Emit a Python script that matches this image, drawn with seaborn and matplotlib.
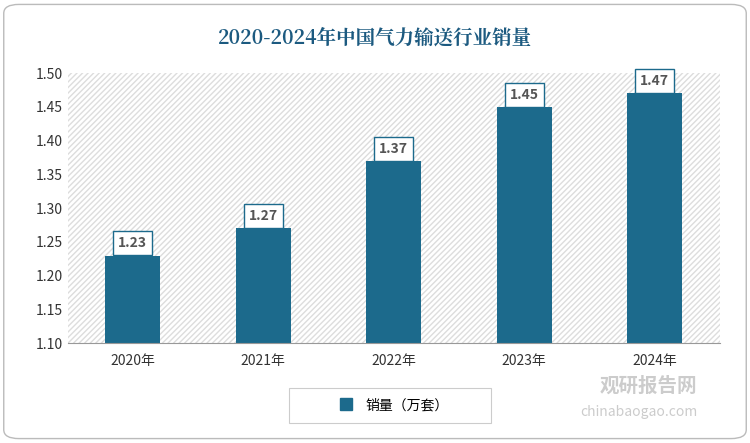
import matplotlib
matplotlib.use("Agg")
import matplotlib.pyplot as plt
import seaborn as sns
import pandas as pd
from matplotlib import font_manager as fm
from matplotlib.patches import FancyBboxPatch, Rectangle
from matplotlib.lines import Line2D

names = sorted({f.name for f in fm.fontManager.ttflist if "CJK" in f.name})
sans = [n for n in names if "Sans" in n and n.endswith("SC")] or [n for n in names if "Sans" in n] or names
serif = [n for n in names if "Serif" in n and n.endswith("SC")] or [n for n in names if "Serif" in n] or sans
plt.rcParams["font.family"] = "sans-serif"
plt.rcParams["font.sans-serif"] = sans[:1] + ["DejaVu Sans"]

years = ["2020年", "2021年", "2022年", "2023年", "2024年"]
sales = [1.23, 1.27, 1.37, 1.45, 1.47]
yticks = [1.10, 1.15, 1.20, 1.25, 1.30, 1.35, 1.40, 1.45, 1.50]
title = "2020-2024年中国气力输送行业销量"
series_name = "销量（万套）"

df = pd.DataFrame({"year": years, "sales": sales})
fig = plt.figure(figsize=(7.5, 4.43), dpi=100)
fig.patches.append(FancyBboxPatch((0.005, 0.01), 0.99, 0.98, boxstyle="round,pad=0,rounding_size=0.02",
                                  transform=fig.transFigure, fill=False, edgecolor="#bbbbbb", lw=1))
ax = fig.add_axes([0.09, 0.225, 0.87, 0.61])
ax.add_patch(Rectangle((0, 0), 1, 1, transform=ax.transAxes, facecolor="white",
                       hatch="//////", edgecolor="#dddddd", lw=0, zorder=0))
sns.barplot(data=df, x="year", y="sales", color="#1c6a8c", width=0.42, ax=ax, zorder=2, saturation=1)
ax.set_ylim(1.10, 1.50)
ax.set_xlim(-0.5, 4.5)
ax.set_yticks(yticks)
ax.set_yticklabels([f"{v:.2f}" for v in yticks], fontsize=10, color="#333333")
ax.tick_params(axis="x", labelsize=10, colors="#333333", length=0, pad=8)
ax.tick_params(axis="y", length=0)
ax.set_xlabel(""); ax.set_ylabel("")
for s in ["top", "right", "left"]:
    ax.spines[s].set_visible(False)
ax.spines["bottom"].set_color("#999999")
for i, v in enumerate(sales):
    ax.text(i, v + 0.018, f"{v:.2f}", ha="center", va="center", fontsize=10, fontweight="bold",
            color="#555555", bbox=dict(boxstyle="square,pad=0.35", fc="white", ec="#1c6a8c", lw=1), zorder=5)
fig.text(0.5, 0.915, title, ha="center", va="center", fontsize=14, fontweight="bold", color="#1c5a80",
         family=serif[:1] + ["DejaVu Serif"])
h = Line2D([], [], marker="s", color="#1c6a8c", ls="", markersize=8)
fig.patches.append(Rectangle((0.385, 0.045), 0.27, 0.08, transform=fig.transFigure,
                             fill=False, edgecolor="#cccccc", lw=0.8))
fig.legend([h], [series_name], loc="center", bbox_to_anchor=(0.52, 0.085), frameon=False,
           fontsize=10, handletextpad=0.4)
fig.text(0.93, 0.115, "观研报告网", ha="right", fontsize=14, fontweight="bold", color="#cccccc")
fig.text(0.93, 0.06, "chinabaogao.com", ha="right", fontsize=10, color="#cccccc")
fig.savefig("out.png", dpi=100)
